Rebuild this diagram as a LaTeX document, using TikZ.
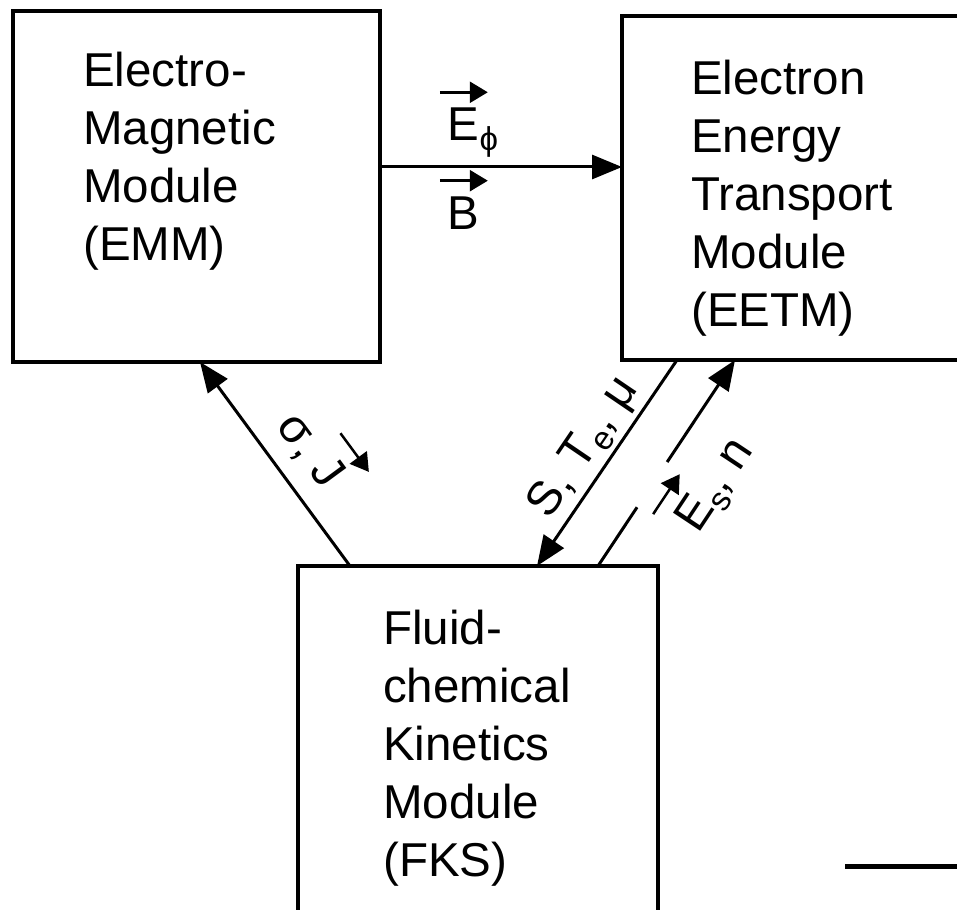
\documentclass[tikz,border=0pt]{standalone}
\usepackage{fontspec}
\setmainfont{Liberation Sans}
\usetikzlibrary{arrows.meta,positioning}
\newcommand{\sub}[1]{\raisebox{-10pt}{\fontsize{33pt}{33pt}\selectfont #1}}
\newcommand{\ovec}[2][0pt]{\leavevmode\setbox0=\hbox{#2}%
  \rlap{\hbox to \wd0{\hss\raisebox{\dimexpr\ht0+16pt\relax}{\tikz[baseline=0pt]{\fill[white] (-3pt,-9pt) rectangle (51pt,#1); \draw[line width=2.5pt,-{Triangle[length=18pt,width=21pt]}] (0pt,0pt) -- (48pt,0pt);}}\hss}}%
  \box0}

\begin{document}
\begin{tikzpicture}[
    x=1pt, y=-1pt,
    font=\fontsize{47.5pt}{58pt}\selectfont,
    >={Triangle[length=30pt,width=24pt]},
    module/.style={rectangle, draw=black, line width=3.5pt, outer sep=0pt, inner sep=0pt},
    modtext/.style={align=left, inner sep=0pt},
    flow/.style={->, line width=3pt},
    flowlabel/.style={inner sep=0pt}
  ]
    \useasboundingbox (0,0) rectangle (957,909);
    \node[module, minimum width=367pt, minimum height=351pt] (emm) at (196.5,186.5) {};
    \node[module, minimum width=368pt, minimum height=344pt] (eetm) at (806,188) {};
    \node[module, minimum width=360pt, minimum height=394pt] (fks) at (478,763) {};
    \node[modtext, below right=41pt and 70pt of emm.north west] (emmtext) {Electro-\\Magnetic\\Module\\(EMM)};
    \node[modtext, below right=44pt and 69pt of eetm.north west] (eetmtext) {Electron\\Energy\\Transport\\Module\\(EETM)};
    \node[modtext, below right=44pt and 85pt of fks.north west] (fkstext) {Fluid-\\chemical\\Kinetics\\Module\\(FKS)};
    \draw[flow] ([yshift=19.5pt]emm.east) coordinate (fieldsrc) -- (fieldsrc -| eetm.west)
      node[flowlabel, pos=0.28, anchor=south west, yshift=9pt] (efield) {\ovec{E}\sub{ϕ}}
      node[flowlabel, pos=0.28, anchor=north west, yshift=-3pt] (bfield) {\ovec{B}};
    \draw[flow] ([xshift=52pt]fks.north west) -- node[flowlabel, pos=0.46, sloped, above=16pt] (sigmaj) {σ, \ovec{J}} ([xshift=187pt]emm.south west);
    \draw[flow] ([xshift=55pt]eetm.south west) -- node[flowlabel, pos=0.5, sloped, above=3.5pt] (ste) {S, T\sub{e}, μ} ([xshift=239pt]fks.north west);
    \draw[flow] ([xshift=300pt]fks.north west) -- node[flowlabel, pos=0.535, sloped, below=-7pt] (esn) {\ovec[24pt]{E}\sub{s}, n} ([xshift=113pt]eetm.south west);
    \coordinate (tickl) at (845,866);
    \coordinate (tickr) at (957,866);
    \draw[line width=5pt] (tickl) -- (tickr);
  \end{tikzpicture}
\end{document}
